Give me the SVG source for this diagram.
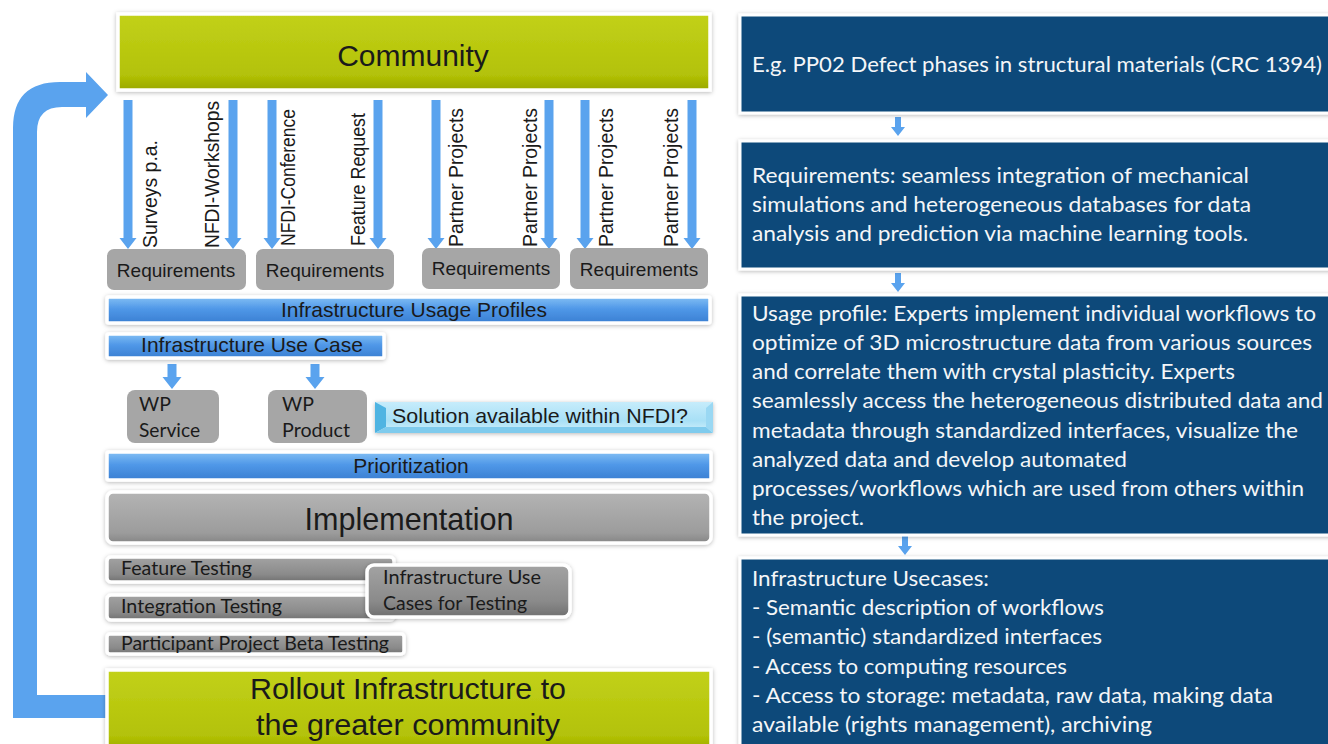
<svg xmlns="http://www.w3.org/2000/svg" xmlns:xlink="http://www.w3.org/1999/xlink" width="1328" height="744" viewBox="0 0 1328 744">
<style>
.ar{font-family:"Liberation Sans",Arial,sans-serif;fill:#1a1a1a}
.cal{font-family:Lato,"Open Sans",sans-serif;fill:#1a1a1a}
.rt{font-family:Lato,"Open Sans",sans-serif;font-size:21.5px;fill:#f4f6f8}
.arrow{fill:#5aa3ee}
.req{fill:#a6a6a6}
.frame{stroke:#ffffff;stroke-width:3.5;filter:url(#sh)}
.rbox{fill:#0b4a7a;stroke:#ffffff;stroke-width:3;filter:url(#sh)}
</style>
<defs>
<filter id="sh" x="-5%" y="-30%" width="110%" height="160%">
<feDropShadow dx="0" dy="1" stdDeviation="2" flood-color="#000" flood-opacity="0.28"/>
</filter>
<linearGradient id="gGreen" x1="0" y1="0" x2="0" y2="1">
<stop offset="0" stop-color="#c2d11a"/><stop offset="0.8" stop-color="#b3c207"/><stop offset="1" stop-color="#9aa800"/>
</linearGradient>
<linearGradient id="gBlue" x1="0" y1="0" x2="0" y2="1">
<stop offset="0" stop-color="#82bff4"/><stop offset="0.45" stop-color="#5098e8"/><stop offset="1" stop-color="#3a7fd2"/>
</linearGradient>
<linearGradient id="gGrey" x1="0" y1="0" x2="0" y2="1">
<stop offset="0" stop-color="#b4b4b4"/><stop offset="0.8" stop-color="#9c9c9c"/><stop offset="1" stop-color="#858585"/>
</linearGradient>
<linearGradient id="gDark" x1="0" y1="0" x2="0" y2="1">
<stop offset="0" stop-color="#a3a3a3"/><stop offset="0.7" stop-color="#8a8a8a"/><stop offset="1" stop-color="#707070"/>
</linearGradient>
<linearGradient id="gCyan" x1="0" y1="0" x2="0" y2="1">
<stop offset="0" stop-color="#c6ecfb"/><stop offset="0.6" stop-color="#a8e0f6"/><stop offset="1" stop-color="#d4f1fc"/>
</linearGradient>
<path id="dn" d="M-4.5,100 H4.5 V238 H8.5 L0,249 L-8.5,238 H-4.5 Z"/>
<path id="sdn" d="M-4.5,0 H4.5 V13 H9.5 L0,25 L-9.5,13 H-4.5 Z"/>
<path id="rdn" d="M-3,0 H3 V10 H7 L0,19 L-7,10 H-3 Z"/>
</defs>
<rect width="1328" height="744" fill="#ffffff"/>

<g id="connectors" class="arrow">
<path id="loop" d="M13,718 L13,128 Q13,82 60,82 L86,82 L86,72 L108,95 L86,118 L86,107 L62,107 Q37,107 37,132 L37,695 L107,695 L107,718 Z"/>
<use xlink:href="#dn" x="128"/>
<use xlink:href="#dn" x="233"/>
<use xlink:href="#dn" x="272"/>
<use xlink:href="#dn" x="378"/>
<use xlink:href="#dn" x="436"/>
<use xlink:href="#dn" x="549"/>
<use xlink:href="#dn" x="585"/>
<use xlink:href="#dn" x="692"/>
<use xlink:href="#sdn" x="172" y="364"/>
<use xlink:href="#sdn" x="315" y="364"/>
<use xlink:href="#rdn" x="898" y="117"/>
<use xlink:href="#rdn" x="898" y="273"/>
<use xlink:href="#rdn" x="905" y="536"/>
</g>

<g id="arrow-labels" class="ar" font-size="19.5">
<text transform="translate(157,248) rotate(-90)" textLength="108" lengthAdjust="spacingAndGlyphs">Surveys p.a.</text>
<text transform="translate(219,248) rotate(-90)" textLength="147" lengthAdjust="spacingAndGlyphs">NFDI-Workshops</text>
<text transform="translate(295,246) rotate(-90)" textLength="137" lengthAdjust="spacingAndGlyphs">NFDI-Conference</text>
<text transform="translate(365,246) rotate(-90)" textLength="133" lengthAdjust="spacingAndGlyphs">Feature Request</text>
<text transform="translate(463,247) rotate(-90)" textLength="139">Partner Projects</text>
<text transform="translate(537,247) rotate(-90)" textLength="139">Partner Projects</text>
<text transform="translate(613,247) rotate(-90)" textLength="139">Partner Projects</text>
<text transform="translate(678,247) rotate(-90)" textLength="139">Partner Projects</text>
</g>

<g id="community">
<rect class="frame" x="118" y="14" width="592" height="76" fill="url(#gGreen)"/>
<text class="ar" x="413" y="66" font-size="30" text-anchor="middle">Community</text>
</g>

<g id="req1"><rect class="req" x="107" y="249" width="139" height="41" rx="7"/><text class="ar" x="176" y="277" font-size="19" text-anchor="middle">Requirements</text></g>
<g id="req2"><rect class="req" x="256" y="249" width="138" height="41" rx="7"/><text class="ar" x="325" y="277" font-size="19" text-anchor="middle">Requirements</text></g>
<g id="req3"><rect class="req" x="422" y="248" width="138" height="41" rx="7"/><text class="ar" x="491" y="275" font-size="19" text-anchor="middle">Requirements</text></g>
<g id="req4"><rect class="req" x="570" y="248" width="138" height="41" rx="7"/><text class="ar" x="639" y="276" font-size="19" text-anchor="middle">Requirements</text></g>

<g id="usage-profiles">
<rect class="frame" x="107" y="297" width="603" height="26" rx="2" fill="url(#gBlue)"/>
<text class="ar" x="414" y="317" font-size="21" text-anchor="middle">Infrastructure Usage Profiles</text>
</g>
<g id="use-case">
<rect class="frame" x="107" y="334" width="277" height="24" rx="2" fill="url(#gBlue)"/>
<text class="ar" x="252" y="352" font-size="21" text-anchor="middle">Infrastructure Use Case</text>
</g>

<g id="wp-service">
<rect x="127" y="390" width="92" height="53" rx="8" fill="#a6a6a6"/>
<text class="cal" x="139" y="411" font-size="19.5">WP</text>
<text class="cal" x="139" y="437" font-size="19.5" textLength="61" lengthAdjust="spacingAndGlyphs">Service</text>
</g>
<g id="wp-product">
<rect x="268" y="390" width="99" height="53" rx="8" fill="#a6a6a6"/>
<text class="cal" x="282" y="411" font-size="19.5">WP</text>
<text class="cal" x="282" y="437" font-size="19.5" textLength="68" lengthAdjust="spacingAndGlyphs">Product</text>
</g>
<g id="solution">
<path d="M375,402 H713 V433 H375 Z" fill="url(#gCyan)" filter="url(#sh)"/>
<path d="M375,402 L386,408 V427 L375,433 Z" fill="#4fb4e2"/>
<path d="M386,427 H706 L713,433 H375 Z" fill="#7fcbed"/>
<path d="M713,402 L706,408 V427 L713,433 Z" fill="#9ad8f3"/>
<text class="ar" x="392" y="423" font-size="21" textLength="296" lengthAdjust="spacingAndGlyphs">Solution available within NFDI?</text>
</g>

<g id="prioritization">
<rect class="frame" x="107" y="452" width="604" height="28" rx="2" fill="url(#gBlue)"/>
<text class="ar" x="411" y="473" font-size="21" text-anchor="middle">Prioritization</text>
</g>

<g id="implementation">
<rect class="frame" x="107" y="492" width="604" height="51" rx="6" fill="url(#gGrey)"/>
<text class="ar" x="409" y="530" font-size="30.5" text-anchor="middle" textLength="209" lengthAdjust="spacingAndGlyphs">Implementation</text>
</g>

<g id="feature-testing">
<rect class="frame" x="107" y="557" width="287" height="25" rx="4" fill="url(#gDark)"/>
<text class="cal" x="121" y="575" font-size="18.5" textLength="131" lengthAdjust="spacingAndGlyphs">Feature Testing</text>
</g>
<g id="integration-testing">
<rect class="frame" x="107" y="595" width="287" height="25" rx="4" fill="url(#gDark)"/>
<text class="cal" x="121" y="613" font-size="18.5" textLength="161" lengthAdjust="spacingAndGlyphs">Integration Testing</text>
</g>
<g id="beta-testing">
<rect class="frame" x="107" y="634" width="297" height="20" rx="3" fill="url(#gDark)"/>
<text class="cal" x="121" y="650" font-size="18.5" textLength="268" lengthAdjust="spacingAndGlyphs">Participant Project Beta Testing</text>
</g>
<g id="usecases-testing">
<rect class="frame" x="367" y="565" width="203" height="52" rx="7" fill="url(#gDark)"/>
<text class="cal" x="383" y="584" font-size="18.5" textLength="158" lengthAdjust="spacingAndGlyphs">Infrastructure Use</text>
<text class="cal" x="383" y="610" font-size="18.5" textLength="144" lengthAdjust="spacingAndGlyphs">Cases for Testing</text>
</g>

<g id="rollout">
<rect class="frame" x="107" y="670" width="604" height="82" fill="url(#gGreen)"/>
<text class="ar" x="408" y="699" font-size="30" text-anchor="middle" textLength="316" lengthAdjust="spacingAndGlyphs">Rollout Infrastructure to</text>
<text class="ar" x="408" y="735" font-size="30" text-anchor="middle" textLength="304" lengthAdjust="spacingAndGlyphs">the greater community</text>
</g>

<g id="example">
<rect class="rbox" x="740" y="15" width="592" height="98"/>
<text class="rt" x="752" y="72" textLength="570" lengthAdjust="spacingAndGlyphs">E.g. PP02 Defect phases in structural materials (CRC 1394)</text>
</g>
<g id="requirements-detail">
<rect class="rbox" x="740" y="141" width="592" height="128"/>
<text class="rt" x="752" y="183" textLength="497" lengthAdjust="spacingAndGlyphs">Requirements: seamless integration of mechanical</text>
<text class="rt" x="752" y="212" textLength="499" lengthAdjust="spacingAndGlyphs">simulations and heterogeneous databases for data</text>
<text class="rt" x="752" y="241" textLength="496" lengthAdjust="spacingAndGlyphs">analysis and prediction via machine learning tools.</text>
</g>
<g id="usage-profile-detail">
<rect class="rbox" x="740" y="295" width="592" height="240"/>
<text class="rt" x="752" y="321" textLength="564" lengthAdjust="spacingAndGlyphs">Usage profile: Experts implement individual workflows to</text>
<text class="rt" x="752" y="350" textLength="560" lengthAdjust="spacingAndGlyphs">optimize of 3D microstructure data from various sources</text>
<text class="rt" x="752" y="379" textLength="483" lengthAdjust="spacingAndGlyphs">and correlate them with crystal plasticity. Experts</text>
<text class="rt" x="752" y="408" textLength="571" lengthAdjust="spacingAndGlyphs">seamlessly access the heterogeneous distributed data and</text>
<text class="rt" x="752" y="438" textLength="546" lengthAdjust="spacingAndGlyphs">metadata through standardized interfaces, visualize the</text>
<text class="rt" x="752" y="467" textLength="375" lengthAdjust="spacingAndGlyphs">analyzed data and develop automated</text>
<text class="rt" x="752" y="496" textLength="552" lengthAdjust="spacingAndGlyphs">processes/workflows which are used from others within</text>
<text class="rt" x="752" y="525" textLength="112" lengthAdjust="spacingAndGlyphs">the project.</text>
</g>
<g id="usecases-detail">
<rect class="rbox" x="740" y="558" width="592" height="200"/>
<text class="rt" x="752" y="586" textLength="237" lengthAdjust="spacingAndGlyphs">Infrastructure Usecases:</text>
<text class="rt" x="752" y="615" textLength="352" lengthAdjust="spacingAndGlyphs">- Semantic description of workflows</text>
<text class="rt" x="752" y="644" textLength="350" lengthAdjust="spacingAndGlyphs">- (semantic) standardized interfaces</text>
<text class="rt" x="752" y="674" textLength="315" lengthAdjust="spacingAndGlyphs">- Access to computing resources</text>
<text class="rt" x="752" y="703" textLength="521" lengthAdjust="spacingAndGlyphs">- Access to storage: metadata, raw data, making data</text>
<text class="rt" x="752" y="732" textLength="400" lengthAdjust="spacingAndGlyphs">available (rights management), archiving</text>
</g>
</svg>
